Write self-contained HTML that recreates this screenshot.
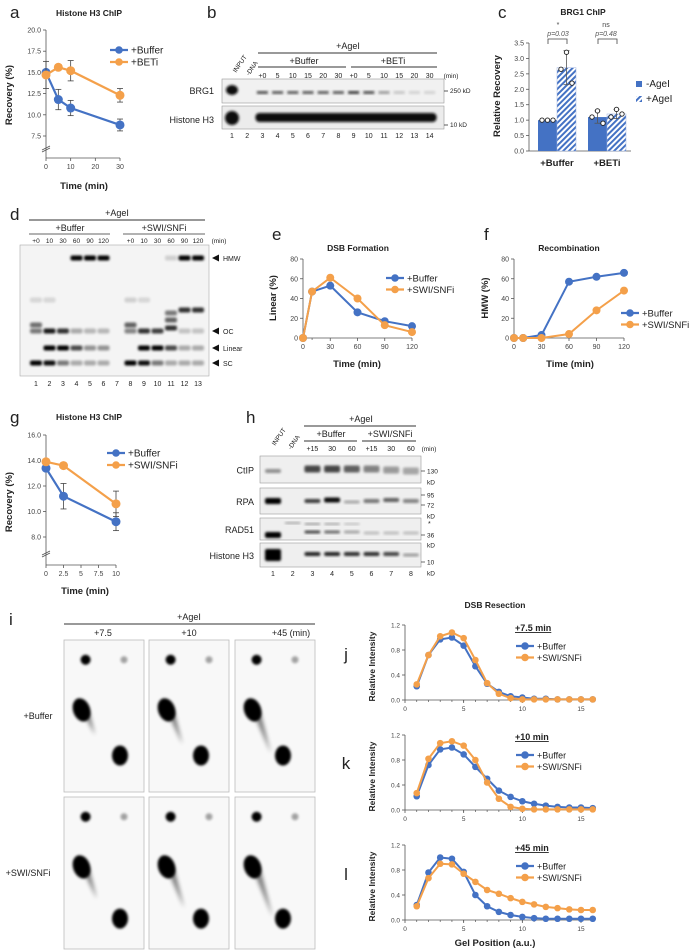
<!DOCTYPE html>
<html><head><meta charset="utf-8">
<style>
html,body{margin:0;padding:0;background:#fff;}
svg{display:block;font-family:"Liberation Sans",Arial,sans-serif;}
</style></head>
<body>
<svg id="fig" width="696" height="951" viewBox="0 0 696 951">
<defs>
<filter id="bl1" x="-50%" y="-50%" width="200%" height="200%"><feGaussianBlur stdDeviation="1.2"/></filter>
<filter id="bl2" x="-50%" y="-50%" width="200%" height="200%"><feGaussianBlur stdDeviation="2"/></filter>
<pattern id="hatch" width="4" height="4" patternUnits="userSpaceOnUse" patternTransform="rotate(45)">
<rect width="4" height="4" fill="#fff"/><rect width="2" height="4" fill="#4472C4"/></pattern>
</defs>
<g id="root"></g>
</svg>
<script>
// ---- data ----
const aTimes=[0,5,10,30];
const aBuffer=[15.0,11.8,10.8,8.8];
const aBufferErr=[0,1.2,0.9,0.7];
const aBeti=[14.7,15.6,15.2,12.3];
const aBetiErr=[1.6,0.3,1.2,0.8];
const aTicks=[7.5,10.0,12.5,15.0,17.5,20.0];

const cGroups=['+Buffer','+BETi'];
const cMinus=[1.0,1.1];
const cPlus=[2.7,1.2];
const cPlusErr=[0.55,0.15];
const cMinusErr=[0.0,0.2];
const cMinusPts=[[1.0,1.0,1.0],[1.1,1.3,0.9]];
const cPlusPts=[[2.65,3.2,2.2],[1.1,1.35,1.2]];
const cTicks=[0,0.5,1,1.5,2,2.5,3,3.5];

const efTimes=[0,10,30,60,90,120];
const eBuffer=[0,47,53,26,17,12];
const eSwi=[0,47,61,40,13,6];
const fBuffer=[0,0,3,57,62,66];
const fSwi=[0,0,0,4,28,48];
const efTicks=[0,20,40,60,80];

const gTimes=[0,2.5,10];
const gBuffer=[13.4,11.2,9.2];
const gBufferErr=[0,1.0,0.7];
const gSwi=[13.9,13.6,10.6];
const gSwiErr=[0,0,1.0];
const gTicks=[8.0,10.0,12.0,14.0,16.0];

const pos=[1,2,3,4,5,6,7,8,9,10,11,12,13,14,15,16];
const jBuffer=[0.22,0.72,0.97,1.0,0.87,0.54,0.26,0.13,0.06,0.04,0.02,0.02,0.01,0.01,0.01,0.01];
const jSwi=[0.25,0.72,1.02,1.08,0.99,0.64,0.27,0.10,0.03,0.01,0.01,0.01,0.01,0.01,0.01,0.01];
const kBuffer=[0.22,0.72,0.97,1.0,0.89,0.69,0.50,0.31,0.21,0.14,0.10,0.07,0.05,0.04,0.04,0.03];
const kSwi=[0.27,0.82,1.07,1.10,1.03,0.80,0.44,0.18,0.05,0.02,0.01,0.01,0.01,0.01,0.01,0.01];
const lBuffer=[0.24,0.76,1.0,0.98,0.77,0.40,0.22,0.13,0.08,0.05,0.03,0.02,0.02,0.02,0.02,0.02];
const lSwi=[0.22,0.67,0.90,0.89,0.74,0.61,0.48,0.42,0.35,0.29,0.25,0.21,0.19,0.17,0.16,0.16];
const jklTicksY=[0,0.4,0.8,1.2];
const jklTicksX=[0,5,10,15];

const BLUE='#4472C4', ORANGE='#F4A04A';
const NS='http://www.w3.org/2000/svg';
const root=document.getElementById('root');
function el(tag,attrs,parent){const e=document.createElementNS(NS,tag);for(const k in attrs)e.setAttribute(k,attrs[k]);(parent||root).appendChild(e);return e;}
function txt(x,y,s,size,opts){opts=opts||{};const e=el('text',{x:x,y:y,'font-size':size,'text-anchor':opts.a||'start',fill:opts.fill||'#222','font-weight':opts.bold?'bold':'normal'},opts.p);if(opts.rot)e.setAttribute('transform','rotate('+opts.rot+' '+x+' '+y+')');if(opts.u)e.setAttribute('text-decoration','underline');if(opts.it)e.setAttribute('font-style','italic');e.textContent=s;

return e;}
function line(x1,y1,x2,y2,c,w,p){return el('line',{x1:x1,y1:y1,x2:x2,y2:y2,stroke:c||'#333','stroke-width':w||0.8},p);}

function lineChart(o){
  const g=el('g',{});
  
  
  const sx=v=>o.px0+(v-o.xmin)/(o.xmax-o.xmin)*(o.px1-o.px0);
  const sy=v=>o.py0-(v-o.ymin)/(o.ymax-o.ymin)*(o.py0-o.py1);
  line(o.px0,o.py1,o.px0,o.axisBottom,'#555',0.8,g);
  line(o.px0,o.axisBottom,o.xAxisEnd||o.px1,o.axisBottom,'#555',0.8,g);
  o.yt.forEach(v=>{line(o.px0-3,sy(v),o.px0,sy(v),'#555',0.8,g);
    txt(o.px0-5,sy(v)+2.5,o.yfmt?o.yfmt(v):String(v),o.fs||7,{a:'end',fill:'#444',p:g,name:'y-tick-label'});});
  o.xt.forEach(v=>{line(sx(v),o.axisBottom,sx(v),o.axisBottom+3,'#555',0.8,g);
    txt(sx(v),o.axisBottom+11,String(v),o.fs||7,{a:'middle',fill:'#444',p:g,name:'x-tick-label'});});
  if(o.minor){o.minor.forEach(v=>line(sx(v),o.axisBottom,sx(v),o.axisBottom+2,'#555',0.7,g));}
  if(o.brk){line(o.px0-4,o.brk+2,o.px0+4,o.brk-2,'#555',0.8,g);line(o.px0-4,o.brk+4,o.px0+4,o.brk,'#555',0.8,g);}
  o.series.forEach(s=>{
    const pts=o.xs.map((x,i)=>sx(x)+','+sy(s.vals[i])).join(' ');
    const pl=el('polyline',{points:pts,fill:'none',stroke:s.color,'stroke-width':o.lw||2.2},g);
    
    
    o.xs.forEach((x,i)=>{
      if(s.err&&s.err[i]>0){const e1=sy(s.vals[i]+s.err[i]),e2=sy(s.vals[i]-s.err[i]);
        line(sx(x),e1,sx(x),e2,'#444',0.8,g);line(sx(x)-3,e1,sx(x)+3,e1,'#444',0.8,g);line(sx(x)-3,e2,sx(x)+3,e2,'#444',0.8,g);}
      const c=el('circle',{cx:sx(x),cy:sy(s.vals[i]),r:o.r||4.5,fill:s.color},g);
      
      
    });
  });
  return {sx,sy};
}
function legend(x,y,entries,fs,dy){
  entries.forEach((e,i)=>{const yy=y+i*(dy||12);
    line(x-9,yy,x+9,yy,e.c,2.2);el('circle',{cx:x,cy:yy,r:3.8,fill:e.c});
    txt(x+12,yy+3.5,e.t,fs||10,{name:'legend-entry'});});
}

// ===== Panel a =====
txt(10,18,'a',17,{name:'panel-label-a'});
txt(89,16,'Histone H3 ChIP',8.5,{a:'middle',bold:true,name:'chart-title-a'});
lineChart({name:'chart-a',px0:46,px1:120,py0:136,py1:30,xmin:0,xmax:30,ymin:7.5,ymax:20,axisBottom:158,xs:aTimes,
  xt:[0,10,20,30],yt:aTicks,yfmt:v=>v.toFixed(1),brk:148,
  series:[{vals:aBuffer,err:aBufferErr,color:BLUE,name:'buffer'},{vals:aBeti,err:aBetiErr,color:ORANGE,name:'beti'}]});
txt(84,189,'Time (min)',9.5,{a:'middle',bold:true,name:'x-axis-title-a'});
txt(12,95,'Recovery (%)',9.5,{a:'middle',bold:true,rot:-90,name:'y-axis-title-a'});
legend(119,50,[{t:'+Buffer',c:BLUE},{t:'+BETi',c:ORANGE}],10,12);

// ===== Panel b (western blot) =====
txt(207,18,'b',17,{name:'panel-label-b'});
txt(348,49,'+AgeI',9,{a:'middle',name:'header-agei'});line(258,53,437,53,'#333',1);
txt(304,64,'+Buffer',9,{a:'middle',name:'header-buffer'});line(258,67,346,67,'#333',1);
txt(393,64,'+BETi',9,{a:'middle',name:'header-beti'});line(351,67,437,67,'#333',1);
const bLane=i=>232+(i-1)*15.2;
['+0','5','10','15','20','30','+0','5','10','15','20','30'].forEach((s,i)=>txt(bLane(i+3),78,s,7,{a:'middle',name:'time-label'}));
txt(451,78,'(min)',6.5,{a:'middle',name:'time-unit'});
txt(236,73,'INPUT',6.5,{rot:-55,name:'input-label'});txt(249,76,'-DNA',6.5,{rot:-55,name:'dna-label'});
el('rect',{x:222,y:79,width:222,height:24,fill:'#f1f1f1',stroke:'#999','stroke-width':0.6});
el('rect',{x:222,y:106,width:222,height:23,fill:'#ececec',stroke:'#999','stroke-width':0.6});
txt(214,94,'BRG1',9,{a:'end',name:'row-label-brg1'});
txt(214,123,'Histone H3',9,{a:'end',name:'row-label-h3'});
el('ellipse',{cx:bLane(1),cy:90,rx:6,ry:5,fill:'#111',filter:'url(#bl1)'});
el('ellipse',{cx:bLane(1),cy:118,rx:7,ry:7,fill:'#111',filter:'url(#bl1)'});
const brgI=[0.75,0.7,0.7,0.7,0.7,0.7,0.85,0.75,0.4,0.2,0.15,0.15];
brgI.forEach((v,i)=>el('rect',{x:bLane(i+3)-5.5,y:91,width:11,height:3,fill:'#222',opacity:v,filter:'url(#bl1)'}));
el('rect',{x:bLane(3)-7,y:113,width:bLane(14)-bLane(3)+14,height:9,rx:4,fill:'#111',filter:'url(#bl1)'});
line(444,91,448,91,'#333',0.8);txt(450,93,'250 kD',6.5,{name:'mw-250'});
line(444,125,448,125,'#333',0.8);txt(450,127,'10 kD',6.5,{name:'mw-10'});
for(let i=1;i<=14;i++)txt(bLane(i),138,String(i),7,{a:'middle',name:'lane-number'});

// ===== Panel c =====
txt(498,18,'c',17,{name:'panel-label-c'});
txt(583,15,'BRG1 ChIP',8.5,{a:'middle',bold:true,name:'chart-title-c'});
(function(){
  const py0=151,py1=43,px0=529,ymax=3.5;
  const sy=v=>py0-v/ymax*(py0-py1);
  const gc=[557,607], bw=19;
  line(px0,py1,px0,py0,'#555',0.8);line(px0,py0,631,py0,'#555',0.8);
  cTicks.forEach(v=>{line(px0-3,sy(v),px0,sy(v),'#555',0.8);txt(px0-5,sy(v)+2.5,v.toFixed(1),7,{a:'end',fill:'#444',name:'y-tick-label'});});
  cGroups.forEach((gname,i)=>{
    const r1=el('rect',{x:gc[i]-bw,y:sy(cMinus[i]),width:bw,height:py0-sy(cMinus[i]),fill:BLUE});
    
    
    const r2=el('rect',{x:gc[i],y:sy(cPlus[i]),width:bw,height:py0-sy(cPlus[i]),fill:'url(#hatch)',stroke:'#9fb4e0','stroke-width':0.5});
    
    
    [[cMinus,cMinusErr,gc[i]-bw/2],[cPlus,cPlusErr,gc[i]+bw/2]].forEach(([v,e,x])=>{if(e[i]>0){line(x,sy(v[i]+e[i]),x,sy(v[i]-e[i]),'#555',0.8);line(x-3,sy(v[i]+e[i]),x+3,sy(v[i]+e[i]),'#555',0.8);line(x-3,sy(v[i]-e[i]),x+3,sy(v[i]-e[i]),'#555',0.8);}});
    cMinusPts[i].forEach((v,k)=>el('circle',{cx:gc[i]-bw+4+k*5.5,cy:sy(v),r:2.2,fill:'#fff',stroke:'#222','stroke-width':0.9}));
    cPlusPts[i].forEach((v,k)=>el('circle',{cx:gc[i]+4+k*5.5,cy:sy(v),r:2.2,fill:'#fff',stroke:'#222','stroke-width':0.9}));
    txt(gc[i],166,gname,9.5,{a:'middle',bold:true,name:'x-category-label'});
  });
  txt(558,27,'*',7,{a:'middle',fill:'#444',name:'sig-star'});
  txt(558,36,'p=0.03',7,{a:'middle',fill:'#555',it:true,name:'p-value-buffer'});
  txt(606,27,'ns',7,{a:'middle',fill:'#444',name:'sig-ns'});
  txt(606,36,'p=0.48',7,{a:'middle',fill:'#555',it:true,name:'p-value-beti'});
  el('path',{d:'M548 44 V39 H567 V44',fill:'none',stroke:'#444','stroke-width':0.8});
  el('path',{d:'M598 44 V39 H617 V44',fill:'none',stroke:'#444','stroke-width':0.8});
  txt(500,96,'Relative Recovery',9.5,{a:'middle',bold:true,rot:-90,name:'y-axis-title-c'});
  el('rect',{x:636,y:81,width:6,height:6,fill:BLUE});txt(646,87,'-AgeI',10,{name:'legend-minus-agei'});
  el('rect',{x:636,y:96,width:6,height:6,fill:'url(#hatch)'});txt(646,102,'+AgeI',10,{name:'legend-plus-agei'});
})();

// ===== Panel d (gel) =====
txt(10,220,'d',17,{name:'panel-label-d'});
txt(117,216,'+AgeI',9,{a:'middle',name:'header-agei-d'});line(29,220,205,220,'#777',1.6);
txt(70,231,'+Buffer',9,{a:'middle',name:'header-buffer-d'});line(29,234,110,234,'#333',0.8);
txt(164,231,'+SWI/SNFi',9,{a:'middle',name:'header-swi-d'});line(123,234,205,234,'#333',0.8);
const dLane=i=>36+(i-1)*13.5;
['+0','10','30','60','90','120'].forEach((s,i)=>{txt(dLane(i+1),243,s,6.5,{a:'middle',name:'time-label'});txt(dLane(i+8),243,s,6.5,{a:'middle',name:'time-label'});});
txt(219,243,'(min)',6.5,{a:'middle',name:'time-unit'});
el('rect',{x:20,y:245,width:189,height:131,fill:'#f4f4f4',stroke:'#aaa','stroke-width':0.6});
const dBands=[
 [4,258,1],[5,258,1],[6,258,1],[11,258,0.15],[12,258,1],[13,258,1],
 [1,300,0.12],[2,300,0.12],[8,300,0.15],[9,300,0.12],
 [11,313,0.5],[11,320,0.6],[12,310,0.8],[13,310,0.8],
 [1,325,0.55],[1,331,0.5],[2,331,0.9],[3,331,0.8],[4,331,0.3],[5,331,0.25],[6,331,0.25],
 [8,325,0.6],[8,331,0.45],[9,331,0.8],[10,331,0.75],[11,328,0.8],[12,331,0.2],[13,331,0.2],
 [2,348,1],[3,348,1],[4,348,0.7],[5,348,0.4],[6,348,0.4],[9,348,1],[10,348,1],[11,348,0.7],[12,348,0.3],[13,348,0.3],
 [1,363,1],[2,363,0.95],[3,363,0.5],[4,363,0.3],[5,363,0.3],[6,363,0.3],[8,363,1],[9,363,0.95],[10,363,0.5],[11,363,0.3],[12,363,0.3],[13,363,0.3]];
dBands.forEach(([l,y,v])=>el('rect',{x:dLane(l)-6,y:y-2.5,width:12,height:5,rx:2,fill:'#000',opacity:v,filter:'url(#bl1)'}));
[['HMW',258],['OC',331],['Linear',348],['SC',363]].forEach(([s,y])=>{el('path',{d:`M212 ${y} L219 ${y-3.5} L219 ${y+3.5}Z`,fill:'#111'});txt(223,y+3,s,7,{name:'band-label'});});
for(let i=1;i<=13;i++)txt(dLane(i),386,String(i),7,{a:'middle',name:'lane-number'});

// ===== Panel e =====
txt(272,240,'e',17,{name:'panel-label-e'});
txt(358,251,'DSB Formation',8.5,{a:'middle',bold:true,name:'chart-title-e'});
lineChart({name:'chart-e',px0:303,px1:412,py0:338,py1:259,xmin:0,xmax:120,ymin:0,ymax:80,axisBottom:338,xs:efTimes,
  xt:[0,30,60,90,120],minor:[10],yt:efTicks,lw:2,r:4,
  series:[{vals:eBuffer,color:BLUE,name:'buffer'},{vals:eSwi,color:ORANGE,name:'swi-snfi'}]});
txt(357,367,'Time (min)',9.5,{a:'middle',bold:true,name:'x-axis-title-e'});
txt(276,298,'Linear (%)',9.5,{a:'middle',bold:true,rot:-90,name:'y-axis-title-e'});
legend(395,278,[{t:'+Buffer',c:BLUE},{t:'+SWI/SNFi',c:ORANGE}],9.5,11.5);

// ===== Panel f =====
txt(484,240,'f',17,{name:'panel-label-f'});
txt(569,251,'Recombination',8.5,{a:'middle',bold:true,name:'chart-title-f'});
lineChart({name:'chart-f',px0:514,px1:624,py0:338,py1:259,xmin:0,xmax:120,ymin:0,ymax:80,axisBottom:338,xs:efTimes,
  xt:[0,30,60,90,120],minor:[10],yt:efTicks,lw:2,r:4,
  series:[{vals:fBuffer,color:BLUE,name:'buffer'},{vals:fSwi,color:ORANGE,name:'swi-snfi'}]});
txt(570,367,'Time (min)',9.5,{a:'middle',bold:true,name:'x-axis-title-f'});
txt(488,298,'HMW (%)',9.5,{a:'middle',bold:true,rot:-90,name:'y-axis-title-f'});
legend(630,313,[{t:'+Buffer',c:BLUE},{t:'+SWI/SNFi',c:ORANGE}],9.5,11.5);

// ===== Panel g =====
txt(10,423,'g',17,{name:'panel-label-g'});
txt(89,420,'Histone H3 ChIP',8.5,{a:'middle',bold:true,name:'chart-title-g'});
lineChart({name:'chart-g',px0:46,px1:116,py0:537,py1:435,xmin:0,xmax:10,ymin:8,ymax:16,axisBottom:565,xs:gTimes,
  xt:[0,2.5,5,7.5,10],yt:gTicks,yfmt:v=>v.toFixed(1),brk:553,
  series:[{vals:gBuffer,err:gBufferErr,color:BLUE,name:'buffer'},{vals:gSwi,err:gSwiErr,color:ORANGE,name:'swi-snfi'}]});
txt(85,594,'Time (min)',9.5,{a:'middle',bold:true,name:'x-axis-title-g'});
txt(12,502,'Recovery (%)',9.5,{a:'middle',bold:true,rot:-90,name:'y-axis-title-g'});
legend(116,453,[{t:'+Buffer',c:BLUE},{t:'+SWI/SNFi',c:ORANGE}],10,12);

// ===== Panel h (western) =====
txt(246,423,'h',17,{name:'panel-label-h'});
txt(361,422,'+AgeI',9,{a:'middle',name:'header-agei-h'});line(304,426,416,426,'#333',0.9);
txt(331,437,'+Buffer',9,{a:'middle',name:'header-buffer-h'});line(304,441,357,441,'#333',0.9);
txt(390,437,'+SWI/SNFi',9,{a:'middle',name:'header-swi-h'});line(362,441,416,441,'#333',0.9);
const hLane=i=>273+(i-1)*19.7;
['+15','30','60','+15','30','60'].forEach((s,i)=>txt(hLane(i+3),451,s,7,{a:'middle',name:'time-label'}));
txt(429,451,'(min)',6.5,{a:'middle',name:'time-unit'});
txt(275,446,'INPUT',6.5,{rot:-55,name:'input-label'});txt(291,450,'-DNA',6.5,{rot:-55,name:'dna-label'});
[['CtIP',456,27],['RPA',488,26],['RAD51',518,22],['Histone H3',543,24]].forEach(([s,y,h])=>{
  el('rect',{x:260,y:y,width:161,height:h,fill:'#efefef',stroke:'#999','stroke-width':0.6});
  txt(254,y+h/2+4,s,9,{a:'end',name:'row-label'});});
[[1,471,0.4,4],[3,469,0.7,7],[4,469,0.7,7],[5,469,0.6,7],[6,469,0.45,7],[7,470,0.35,7],[8,471,0.3,7],
 [1,501,1,6],[3,501,0.75,4],[4,500,0.95,5],[5,502,0.3,3],[6,501,0.5,4],[7,500,0.6,4],[8,501,0.45,4],
 [1,535,1,6],[2,523,0.3,2],[3,524,0.35,2],[3,532,0.7,3],[4,524,0.3,2],[4,532,0.55,3],[5,524,0.2,2],[5,532,0.3,3],[6,533,0.2,3],[7,533,0.2,3],[8,533,0.2,3],
 [1,555,1,12],[3,554,0.85,4],[4,554,0.85,4],[5,554,0.8,4],[6,554,0.8,4],[7,554,0.7,4],[8,555,0.35,3]]
 .forEach(([l,y,v,h])=>el('rect',{x:hLane(l)-8,y:y-h/2,width:16,height:h,rx:2,fill:'#000',opacity:v,filter:'url(#bl1)'}));
[['130',471],['95',495],['72',505],['36',535],['10',562]].forEach(([s,y])=>{line(421,y,425,y,'#333',0.7);txt(427,y+2.5,s,6.5,{name:'mw-label'});});
[482,516,545,573].forEach(y=>txt(427,y+2.5,'kD',6.5,{name:'mw-unit'}));
txt(428,526,'*',7,{name:'asterisk'});
for(let i=1;i<=8;i++)txt(hLane(i),576,String(i),7,{a:'middle',name:'lane-number'});

// ===== Panel i (2D gels) =====
txt(9,625,'i',17,{name:'panel-label-i'});
txt(189,620,'+AgeI',9,{a:'middle',name:'header-agei-i'});line(64,624,315,624,'#333',1);
txt(103,636,'+7.5',9,{a:'middle',name:'time-label'});txt(189,636,'+10',9,{a:'middle',name:'time-label'});txt(291,636,'+45 (min)',9,{a:'middle',name:'time-label'});
txt(38,719,'+Buffer',9,{a:'middle',name:'row-label-buffer'});
txt(28,876,'+SWI/SNFi',9,{a:'middle',name:'row-label-swi'});
const gelX=[64,149,235], gelY=[640,797], gw=80, gh=152;
gelY.forEach((gy,r)=>gelX.forEach((gx,c)=>{
  el('rect',{x:gx,y:gy,width:gw,height:gh,fill:'#f8f8f8',stroke:'#bbb','stroke-width':0.8});
  el('ellipse',{cx:gx+gw*0.27,cy:gy+gh*0.13,rx:5,ry:5,fill:'#000',filter:'url(#bl1)'});
  el('line',{x1:gx+gw*0.3,y1:gy+gh*0.13,x2:gx+gw*0.75,y2:gy+gh*0.13,stroke:'#000','stroke-width':2,opacity:0.12,filter:'url(#bl1)'});
  el('ellipse',{cx:gx+gw*0.75,cy:gy+gh*0.13,rx:3.5,ry:3.5,fill:'#000',opacity:0.35,filter:'url(#bl1)'});
  const tail=0.25+0.2*c+0.15*r;
  el('path',{d:`M${gx+gw*0.18} ${gy+gh*0.42} L${gx+gw*(0.35+0.15*tail)} ${gy+gh*(0.55+0.3*tail)} L${gx+gw*0.32} ${gy+gh*0.48}Z`,fill:'#000',opacity:0.5,filter:'url(#bl2)'});
  el('ellipse',{cx:gx+gw*0.22,cy:gy+gh*0.46,rx:8.5,ry:12,fill:'#000',filter:'url(#bl1)',transform:`rotate(-20 ${gx+gw*0.22} ${gy+gh*0.46})`});
  el('ellipse',{cx:gx+gw*(0.7-0.05*c),cy:gy+gh*(0.76+0.04*r),rx:8,ry:10,fill:'#000',filter:'url(#bl1)'});
}));

// ===== Panels j/k/l =====
txt(495,608,'DSB Resection',8.5,{a:'middle',bold:true,name:'chart-title-jkl'});
[[jBuffer,jSwi,625,700,'j','+7.5 min',660],[kBuffer,kSwi,735,810,'k','+10 min',769],[lBuffer,lSwi,845,920,'l','+45 min',880]]
.forEach(([b,s,top,bot,lab,title,ly])=>{
  txt(346,ly,lab,17,{a:'middle',name:'panel-label-'+lab});
  lineChart({name:'chart-'+lab,px0:405,px1:581,py0:bot,py1:top,xmin:0,xmax:15,ymin:0,ymax:1.2,axisBottom:bot,xAxisEnd:593,xs:pos,
    xt:jklTicksX,yt:jklTicksY,yfmt:v=>v.toFixed(1),minor:pos,lw:2,r:3.3,fs:6.5,
    series:[{vals:b,color:BLUE,name:'buffer'},{vals:s,color:ORANGE,name:'swi-snfi'}]});
  txt(375,(top+bot)/2+4,'Relative Intensity',8.5,{a:'middle',bold:true,rot:-90,name:'y-axis-title-'+lab});
  txt(515,ly-29,title,9,{bold:true,u:true,name:'legend-title-'+lab});
  legend(525,ly-14,[{t:'+Buffer',c:BLUE},{t:'+SWI/SNFi',c:ORANGE}],9,11.5);
});
txt(495,946,'Gel Position (a.u.)',9.5,{a:'middle',bold:true,name:'x-axis-title-jkl'});
</script>
</body></html>
